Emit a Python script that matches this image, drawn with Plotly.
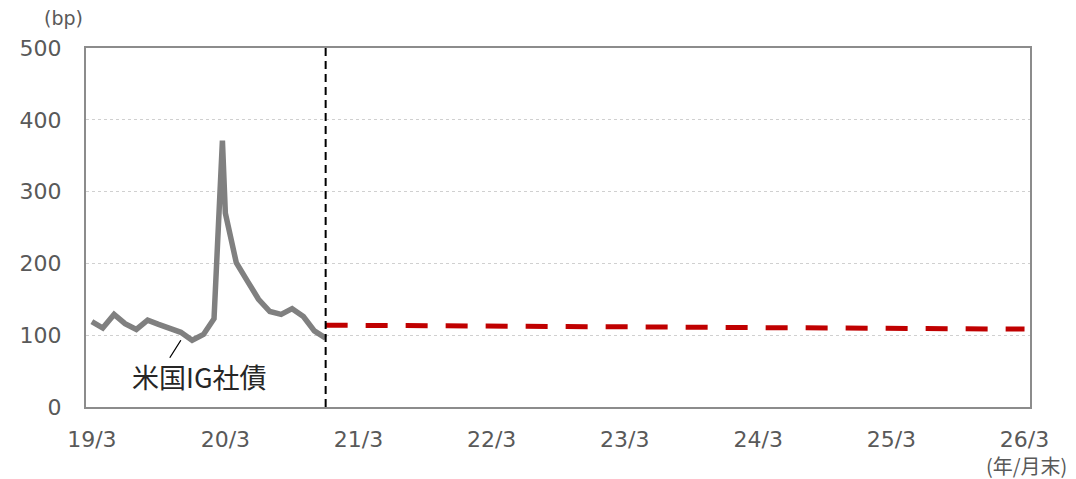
import plotly.graph_objects as go

# 米国IG社債スプレッド (月末, bp)
ig_dates = ["2019-03-31", "2019-04-30", "2019-05-31", "2019-06-30", "2019-07-31",
            "2019-08-31", "2019-09-30", "2019-10-31", "2019-11-30", "2019-12-31",
            "2020-01-31", "2020-02-29", "2020-03-23", "2020-03-31", "2020-04-30",
            "2020-05-31", "2020-06-30", "2020-07-31", "2020-08-31", "2020-09-30",
            "2020-10-31", "2020-11-30", "2020-12-31"]
ig_values = [119, 110, 129, 116, 108, 121, 115, 109, 104, 93, 101, 123,
             371, 270, 201, 175, 150, 133, 129, 137, 126, 106, 96]

# 見通し (破線)
fc_dates = ["2020-12-31", "2021-12-31", "2022-12-31", "2023-12-31",
            "2024-12-31", "2025-12-31", "2026-03-31"]
fc_values = [114, 113, 112, 111, 110, 109, 108.5]

tick_dates = ["2019-03-31", "2020-03-31", "2021-03-31", "2022-03-31",
              "2023-03-31", "2024-03-31", "2025-03-31", "2026-03-31"]
tick_labels = ["19/3", "20/3", "21/3", "22/3", "23/3", "24/3", "25/3", "26/3"]
divider_date = "2020-12-31"

font_main = "DejaVu Sans, Noto Sans CJK JP"
font_jp = "Noto Sans CJK JP, DejaVu Sans"
axis_grey = "#8c8c8c"
text_grey = "#595959"

fig = go.Figure()

fig.add_trace(go.Scatter(x=ig_dates, y=ig_values, mode="lines",
                         line=dict(color="#808080", width=5.5), showlegend=False))
fig.add_trace(go.Scatter(x=fc_dates, y=fc_values, mode="lines",
                         line=dict(color="#c00000", width=5, dash="22px,18px"),
                         showlegend=False))

# 見通しの境目
fig.add_shape(type="line", xref="x", yref="paper", x0=divider_date, x1=divider_date,
              y0=0, y1=1, line=dict(color="black", width=2, dash="8px,5px"))

# ラベルと引き出し線
fig.add_annotation(x="2019-11-30", y=93, xref="x", yref="y", ax=-12, ay=19,
                   showarrow=True, arrowhead=0, arrowwidth=1.3, arrowcolor="black",
                   text="")
fig.add_annotation(x="2020-01-20", y=42, xref="x", yref="y", text="米国IG社債",
                   showarrow=False, font=dict(family=font_jp, size=27, color="#262626"))

fig.add_annotation(x=-0.024, y=1.084, xref="paper", yref="paper", text="(bp)",
                   showarrow=False, xanchor="center", yanchor="middle",
                   font=dict(family=font_main, size=19, color=text_grey))
fig.add_annotation(x=0.996, y=-0.164, xref="paper", yref="paper", text="(年/月末)",
                   showarrow=False, xanchor="center", yanchor="middle",
                   font=dict(family=font_jp, size=20, color=text_grey))

# ページ余白 (8px) を見込んだサイズ
fig.update_layout(
    width=1068, height=471,
    margin=dict(l=75, r=46, t=40, b=72),
    plot_bgcolor="white", paper_bgcolor="white",
    font=dict(family=font_main, size=22, color=text_grey),
    xaxis=dict(type="date", range=["2019-03-15", "2026-04-15"],
               tickvals=tick_dates, ticktext=tick_labels, showgrid=False,
               showline=True, linecolor=axis_grey, linewidth=2, mirror=True,
               ticks="", ticklabelstandoff=12, zeroline=False),
    yaxis=dict(range=[0, 500], tickvals=[0, 100, 200, 300, 400, 500],
               showgrid=True, gridcolor="#d0d0d0", griddash="dot", gridwidth=1,
               showline=True, linecolor=axis_grey, linewidth=2, mirror=True,
               ticks="", ticklabelstandoff=18, zeroline=False),
)

fig.write_html("out.html")
